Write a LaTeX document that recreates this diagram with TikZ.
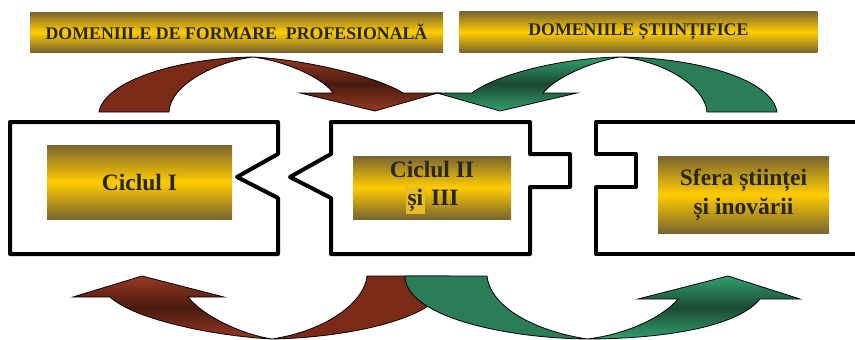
\documentclass[tikz,border=0pt]{standalone}
\usepackage{fontspec}
\setmainfont{Liberation Serif}
\usepackage{tikz}
\usetikzlibrary{positioning}
\definecolor{goldmid}{HTML}{FFCC00}
\definecolor{golddark}{HTML}{7A6530}
\definecolor{goldhl}{HTML}{E8BC22}
\definecolor{redflat}{HTML}{7B2B18}
\definecolor{redlight}{HTML}{983A22}
\definecolor{reddark}{HTML}{4A1A0E}
\definecolor{greenflat}{HTML}{2A7D56}
\definecolor{greenlight}{HTML}{31A06D}
\definecolor{greendark}{HTML}{1B4A32}
\definecolor{txt}{HTML}{262626}

\begin{document}
\begin{tikzpicture}[x=1pt, y=-1pt,
	goldbox/.style={rectangle, inner sep=0pt, align=center, text=txt,
		top color=golddark, bottom color=golddark, middle color=goldmid},
	frame/.style={draw=black, line width=4pt, line join=round},
	redarr/.style={draw=black, line width=0.8pt, fill=redflat},
	redshade/.style={draw=black, line width=0.8pt, top color=redlight, bottom color=redlight, middle color=reddark},
	greenarr/.style={draw=black, line width=0.8pt, fill=greenflat},
	greenshade/.style={draw=black, line width=0.8pt, top color=greenlight, bottom color=greenlight, middle color=greendark}]
	\useasboundingbox (0,0) rectangle (855,340);
	\clip (0,0) rectangle (855,340);
	
	% banners
	\node[goldbox, minimum width=413pt, minimum height=40pt, font=\fontsize{17.8}{20}\selectfont\bfseries](domprof) at (236.5,32) {DOMENIILE DE FORMARE\ \ PROFESIONALĂ};
	\node[goldbox, minimum width=358pt, minimum height=41pt, font=\fontsize{17.8}{20}\selectfont\bfseries, right=16pt of domprof](domst) {DOMENIILE ȘTIINȚIFICE};
	
	% frames
	\draw[frame] (10,122) -- (278,122) -- (278,154) -- (237,177) -- (278,198) -- (278,254) -- (10,254) -- cycle;
	\draw[frame] (331,122) -- (530,122) -- (530,154) -- (570,154) -- (570,187) -- (530,187) -- (530,254) -- (331,254) -- (331,198) -- (290,177) -- (331,154) -- cycle;
	\draw[frame] (862,122) -- (596,122) -- (596,154) -- (636,154) -- (636,187) -- (596,187) -- (596,254) -- (862,254);
	
	% cycles
	\node[goldbox, minimum width=185pt, minimum height=74pt, font=\fontsize{23.5}{28}\selectfont\bfseries](cyc1) at (139.5,182) {Ciclul I};
	\node[goldbox, minimum width=158pt, minimum height=63pt, font=\fontsize{23.5}{28}\selectfont\bfseries](cyc2) at (432,187.5) {Ciclul II\\{\setlength{\fboxsep}{2pt}\colorbox{goldhl}{și}} III};
	\node[goldbox, minimum width=171pt, minimum height=77pt, font=\fontsize{23.5}{28.5}\selectfont\bfseries](sfera) at (743.5,194.5) {Sfera științei\\și inovării};
	
	% top arrows
	\path[redarr] (99,112) -- (169,112) .. controls (170,85) and (215,62) .. (253,57) .. controls (180,58) and (105,80) .. (99,112) -- cycle;
	\path[redshade] (253,57) .. controls (310,60) and (380,78) .. (403,93) -- (438,93) -- (375,111) -- (300,93) -- (333,93) .. controls (325,80) and (290,62) .. (253,57) -- cycle;
	\path[greenarr] (707,112) -- (777,112) .. controls (772,80) and (700,58) .. (620,57) .. controls (660,60) and (705,85) .. (707,112) -- cycle;
	\path[greenshade] (620,57) .. controls (560,58) and (495,75) .. (472,93) -- (437,93) -- (500,111) -- (577,93) -- (543,93) .. controls (555,78) and (590,62) .. (620,57) -- cycle;
	
	% bottom arrows
	\path[redshade] (272,339) .. controls (215,336) and (135,320) .. (110,297) -- (73,297) -- (142,276) -- (224,297) -- (188,297) .. controls (205,318) and (245,335) .. (272,339) -- cycle;
	\path[redarr] (272,339) .. controls (330,330) and (365,300) .. (367,276) -- (449,276) .. controls (449,320) and (340,338) .. (272,339) -- cycle;
	\path[greenarr] (405,276) -- (487,276) .. controls (490,305) and (530,330) .. (587,339) .. controls (500,338) and (405,315) .. (405,276) -- cycle;
	\path[greenshade] (587,339) .. controls (630,334) and (665,315) .. (678,299) -- (638,299) -- (728,276) -- (800,299) -- (760,299) .. controls (735,330) and (650,339) .. (587,339) -- cycle;
\end{tikzpicture}
\end{document}
